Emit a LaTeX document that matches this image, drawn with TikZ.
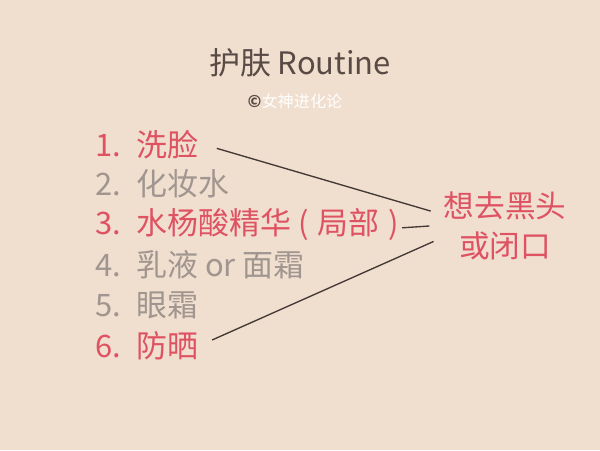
\documentclass[tikz,border=0pt]{standalone}
\usepackage{fontspec}
\setmainfont{Noto Sans CJK SC}
\usepackage{tikz}
\usepackage{xcolor}
\usetikzlibrary{
    arrows.meta,
    positioning,
    calc
}
\definecolor{skinbg}{RGB}{240,222,207}
\definecolor{skinred}{RGB}{222,82,98}
\definecolor{skingray}{RGB}{160,150,143}
\definecolor{skindark}{RGB}{88,74,68}
\definecolor{skinline}{RGB}{66,56,52}

\newcommand{\stepnum}[1]{\makebox[1.33em][l]{#1}}

\begin{document}
\begin{tikzpicture}[
    x=0.025cm, y=-0.025cm,
    item/.style={anchor=west, inner sep=0pt, font=\fontsize{22}{28}\selectfont},
    key/.style={item, skinred},
    opt/.style={item, skingray},
    goal/.style={align=center, inner xsep=8pt, inner ysep=0pt, skinred,
                 font=\fontsize{21.8}{28.3}\selectfont},
    link/.style={skinline, line width=0.95pt}
  ]
    \fill[skinbg] (0,0) rectangle (600,450);
    \node[skindark, font=\fontsize{22}{26}\selectfont](title) at (300,63){护肤 Routine};
    \node[white, font=\fontsize{11.5}{13}\selectfont](credit) at (295,101){{\color{skindark}\bfseries ©}女神进化论};
    \node[key](s1) at (95,145){\stepnum{1.}洗脸};
    \node[opt](s2) at (95,184){\stepnum{2.}化妆水};
    \node[key](s3) at (95,224){\stepnum{3.}水杨酸精华\hspace{0.25em}(\hspace{0.28em}局部\hspace{0.28em})};
    \node[opt](s4) at (95,265){\stepnum{4.}乳液 or 面霜};
    \node[opt](s5) at (95,305){\stepnum{5.}眼霜};
    \node[key](s6) at (95,346){\stepnum{6.}防晒};
    \node[goal](aim) at (505,226){想去黑头\\或闭口};
    \draw[link, shorten <=13.5pt]($(s1.east)+(0,-2)$) -- ([xshift=-1pt,yshift=10.6pt]aim.west);
    \draw[link, shorten <=2pt]($(s3.east)+(0,4)$) -- ([xshift=-2pt]aim.west);
    \draw[link, shorten <=10.5pt](s6.east) -- ([xshift=1pt,yshift=-11pt]aim.west);
  \end{tikzpicture}
\end{document}
